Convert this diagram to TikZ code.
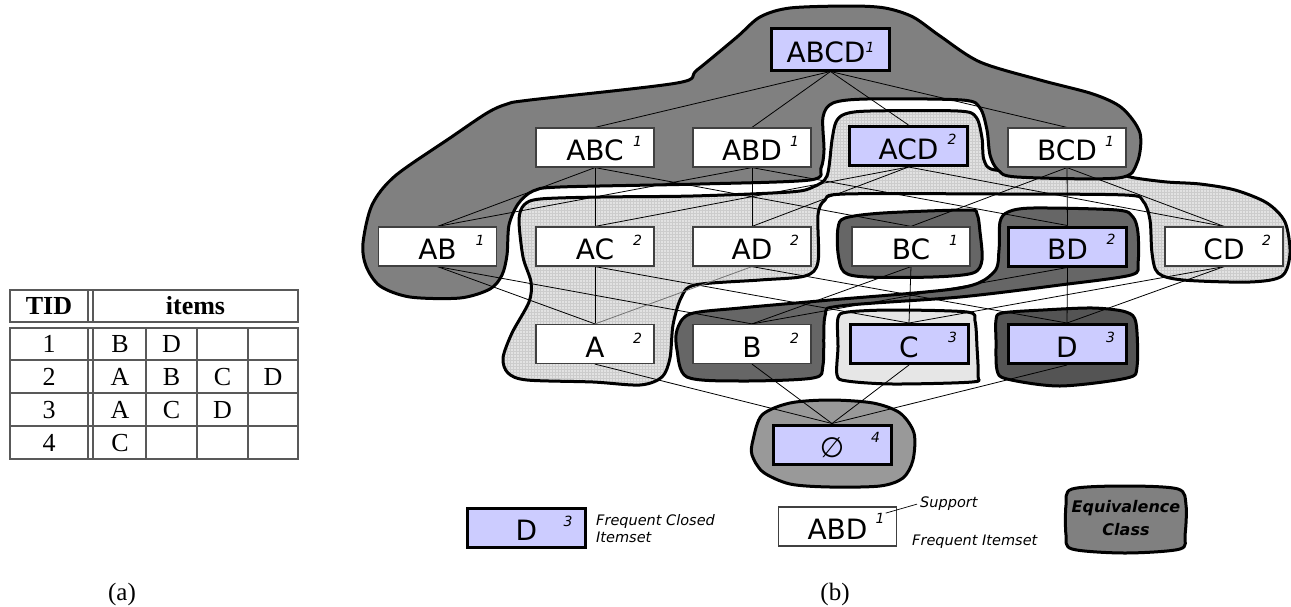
\documentclass[tikz,border=0pt]{standalone}
\usepackage{fontspec}
\setmainfont{DejaVu Sans}[ItalicFont={DejaVu Sans Oblique},BoldFont={DejaVu Sans Bold},BoldItalicFont={DejaVu Sans Bold Oblique}]
\newfontfamily\tms{Liberation Serif}
\usetikzlibrary{patterns}
\pgfdeclarelayer{blobs}
\pgfdeclarelayer{edges}
\pgfsetlayers{blobs,edges,main}
\definecolor{closedfill}{HTML}{CCCCFF}
\definecolor{bigdark}{HTML}{808080}
\definecolor{midgray}{HTML}{666666}
\definecolor{darkD}{HTML}{545454}
\definecolor{lightC}{HTML}{E6E6E6}
\definecolor{emptyg}{HTML}{999999}
\definecolor{lightfill}{HTML}{E2E2E2}
\tikzset{
  itembox/.style={draw=black!75, line width=1.2pt, fill=white, minimum width=118pt,
    minimum height=39pt, inner sep=0pt, text height=26.5pt, text depth=0pt,
    font=\fontsize{28}{28}\selectfont},
  closedbox/.style={itembox, draw=black, line width=3pt, fill=closedfill},
  supnum/.style={font=\fontsize{14}{14}\selectfont\itshape, inner sep=0pt},
  blob/.style={draw=black, line width=3pt, line join=round},
  edge/.style={line width=0.8pt, draw=black},
  tbl/.style={line width=1.1pt, draw=black!65},
  tcell/.style={font=\tms\fontsize{26}{26}\selectfont, inner sep=0pt, text height=17pt, text depth=0pt},
  legtext/.style={font=\fontsize{14.5}{14.5}\selectfont\itshape, inner sep=0pt},
  caption/.style={font=\tms\fontsize{25}{25}\selectfont, inner sep=0pt},
}
\begin{document}
\begin{tikzpicture}[x=1pt,y=-1pt]
\useasboundingbox (0,0) rectangle (1291,606);

% ---------------- table (a) ----------------
\draw[tbl] (10,290) rectangle (298,322);
\draw[tbl] (10,328) rectangle (298,459);
\draw[tbl] (88,290) -- (88,322) (93,290) -- (93,322) (88,328) -- (88,459) (93,328) -- (93,459);
\draw[tbl] (10,360) -- (298,360) (10,393) -- (298,393) (10,426) -- (298,426);
\draw[tbl] (146,328) -- (146,459) (197,328) -- (197,459) (248,328) -- (248,459);
\node[tcell, font=\tms\bfseries\fontsize{26}{26}\selectfont] (hTID) at (49,306) {TID};
\node[tcell, font=\tms\bfseries\fontsize{26}{26}\selectfont] (hitems) at (195.5,306) {items};
\node[tcell] (t1) at (49,344) {1};
\node[tcell] (t1a) at (120,344) {B};
\node[tcell] (t1b) at (171.5,344) {D};
\node[tcell] (t2) at (49,376.5) {2};
\node[tcell] (t2a) at (120,376.5) {A};
\node[tcell] (t2b) at (171.5,376.5) {B};
\node[tcell] (t2c) at (222.5,376.5) {C};
\node[tcell] (t2d) at (273,376.5) {D};
\node[tcell] (t3) at (49,409.5) {3};
\node[tcell] (t3a) at (120,409.5) {A};
\node[tcell] (t3b) at (171.5,409.5) {C};
\node[tcell] (t3c) at (222.5,409.5) {D};
\node[tcell] (t4) at (49,442.5) {4};
\node[tcell] (t4a) at (120,442.5) {C};

% ---------------- equivalence classes ----------------
\begin{pgfonlayer}{blobs}
% ACD class (light, patterned)
\path[blob, preaction={fill=lightfill}, pattern=grid, pattern color=black!20]
  plot[smooth cycle, tension=0.5] coordinates {
  (845,114) (870,111) (958,111) (976,117) (982,138) (984,160) (995,170)
  (1050,171) (1110,173) (1135,178) (1167,182) (1200,184) (1235,190) (1267,203)
  (1285,222) (1290,253) (1282,276) (1250,282) (1183,280) (1158,273) (1152,253)
  (1150,220) (1143,201) (1125,195) (1000,194) (845,194) (825,200) (818,215)
  (818,262) (805,276) (760,280) (695,285) (681,298) (673,325) (670,358)
  (662,377) (640,385) (593,382) (527,380) (508,373) (503,358) (512,333)
  (529,302) (531,282) (523,257) (519,220) (524,205) (540,199) (600,197)
  (693,196) (790,192) (813,187) (827,176) (832,140) (836,122)};
% ABCD class (dark)
\path[blob, fill=bigdark] plot[smooth cycle, tension=0.5] coordinates {
  (760,17) (790,8) (850,6) (885,8) (913,17) (940,36) (980,62) (1040,80)
  (1093,94) (1122,108) (1140,133) (1137,163) (1118,178) (1017,177) (998,170)
  (990,155) (987,130) (980,108) (962,100) (867,99) (833,103) (823,117)
  (824,150) (821,168) (810,180) (700,184) (560,187) (533,191) (518,204)
  (509,225) (507,255) (502,275) (490,289) (460,298) (410,297) (380,286)
  (366,266) (363,243) (372,205) (395,176) (450,138) (487,113) (507,104)
  (530,100) (677,83) (697,70) (737,37)};
% BC island of the ABCD class
\path[blob, fill=midgray] plot[smooth cycle, tension=0.5] coordinates {
  (838,228) (845,218) (883,213) (967,210) (977,214) (980,232) (982,260)
  (973,273) (933,277) (867,277) (844,272) (838,253)};
% BD class
\path[blob, fill=midgray] plot[smooth cycle, tension=0.5] coordinates {
  (677,330) (690,314) (740,308) (830,300) (960,288) (994,272) (999,250)
  (1000,222) (1008,212) (1033,208) (1117,210) (1133,217) (1138,233)
  (1138,263) (1131,275) (1060,285) (960,297) (840,306) (825,316) (823,365)
  (813,378) (740,381) (687,377) (677,350)};
% C class
\path[blob, fill=lightC] plot[smooth cycle, tension=0.5] coordinates {
  (838,318) (848,312) (893,310) (967,312) (975,321) (977,347) (978,376)
  (972,382) (893,384) (847,381) (837,375) (838,347)};
% D class
\path[blob, fill=darkD] plot[smooth cycle, tension=0.5] coordinates {
  (996,320) (1002,313) (1043,310) (1093,308) (1126,312) (1136,323)
  (1137,367) (1127,378) (1060,386) (1007,379) (997,370) (996,340)};
% empty set class
\path[blob, fill=emptyg] plot[smooth cycle, tension=0.5] coordinates {
  (753,440) (762,415) (790,403) (830,400) (873,403) (900,413) (914,433)
  (913,460) (903,478) (880,486) (830,487) (790,484) (763,472) (752,455)};
% legend class shape
\path[blob, fill=bigdark] plot[smooth cycle, tension=0.5] coordinates {
  (1072,489) (1125,486) (1178,489) (1186,505) (1185,535) (1180,549)
  (1125,553) (1072,549) (1066,535) (1066,505)};
\end{pgfonlayer}

% ---------------- itemset nodes ----------------
\node[closedbox, minimum height=42pt] (ABCD) at (830.5,49) {ABCD\raisebox{10pt}{\fontsize{14}{14}\selectfont\itshape 1}};
\node[itembox] (ABC) at (595,147.5) {ABC};
\node[itembox] (ABD) at (752,147.5) {ABD};
\node[closedbox] (ACD) at (908.5,146) {ACD};
\node[itembox] (BCD) at (1067,147.5) {BCD};
\node[itembox] (AB) at (437.5,246.5) {AB};
\node[itembox] (AC) at (595,246.5) {AC};
\node[itembox] (AD) at (752,246.5) {AD};
\node[itembox] (BC) at (911,246.5) {BC};
\node[closedbox] (BD) at (1067.5,246.5) {BD};
\node[itembox] (CD) at (1224,246.5) {CD};
\node[itembox] (A) at (595,344) {A};
\node[itembox] (B) at (752,344) {B};
\node[closedbox] (C) at (909,344) {C};
\node[closedbox] (D) at (1067,344) {D};
\node[closedbox] (E) at (832,444.5) {∅};

\foreach \s/\n in {ABC/1,ABD/1,ACD/2,BCD/1,AB/1,AC/2,AD/2,BC/1,BD/2,CD/2,A/2,B/2,C/3,D/3,E/4}
  \node[supnum] (sup\s) at ([xshift=-17pt,yshift=-14pt]\s.north east) {\n};

% ---------------- lattice edges ----------------
\begin{pgfonlayer}{edges}
\foreach \u/\l in {ABCD/ABC,ABCD/ABD,ABCD/ACD,ABCD/BCD,
    ABC/AB,ABC/AC,ABC/BC,ABD/AB,ABD/AD,ABD/BD,ACD/AC,ACD/AD,ACD/CD,
    BCD/BC,BCD/BD,BCD/CD,
    AB/A,AB/B,AC/A,AC/C,AD/D,BC/B,BC/C,BD/B,BD/D,CD/C,CD/D,
    A/E,B/E,C/E,D/E}
  \draw[edge] (\u.south) -- (\l.north);
\draw[edge, draw=black!55] (AD.south) -- (A.north);
\end{pgfonlayer}

% ---------------- legend ----------------
\node[closedbox] (legD) at (526.5,527.5) {D};
\node[supnum] (legDsup) at ([xshift=-19pt,yshift=-15pt]legD.north east) {3};
\node[legtext, anchor=base west] (legFC1) at (596,525) {Frequent Closed};
\node[legtext, anchor=base west] (legFC2) at (596,542) {Itemset};
\node[itembox] (legABD) at (837.5,526.5) {ABD};
\node[supnum] (legABDsup) at ([xshift=-17pt,yshift=-12pt]legABD.north east) {1};
\node[legtext, anchor=base west] (legSup) at (920,507) {Support};
\node[legtext, anchor=base west] (legFI) at (912,545) {Frequent Itemset};
\draw[line width=0.7pt] ([xshift=1pt]legABDsup.north east) -- ([xshift=-3pt,yshift=-1pt]legSup.west);
\node[font=\fontsize{16}{23}\selectfont\bfseries\itshape, align=center, inner sep=0pt] (legEC) at (1126,518) {Equivalence\\Class};

% ---------------- captions ----------------
\node[caption] (capA) at (122,594) {(a)};
\node[caption] (capB) at (835,594) {(b)};
\end{tikzpicture}
\end{document}
